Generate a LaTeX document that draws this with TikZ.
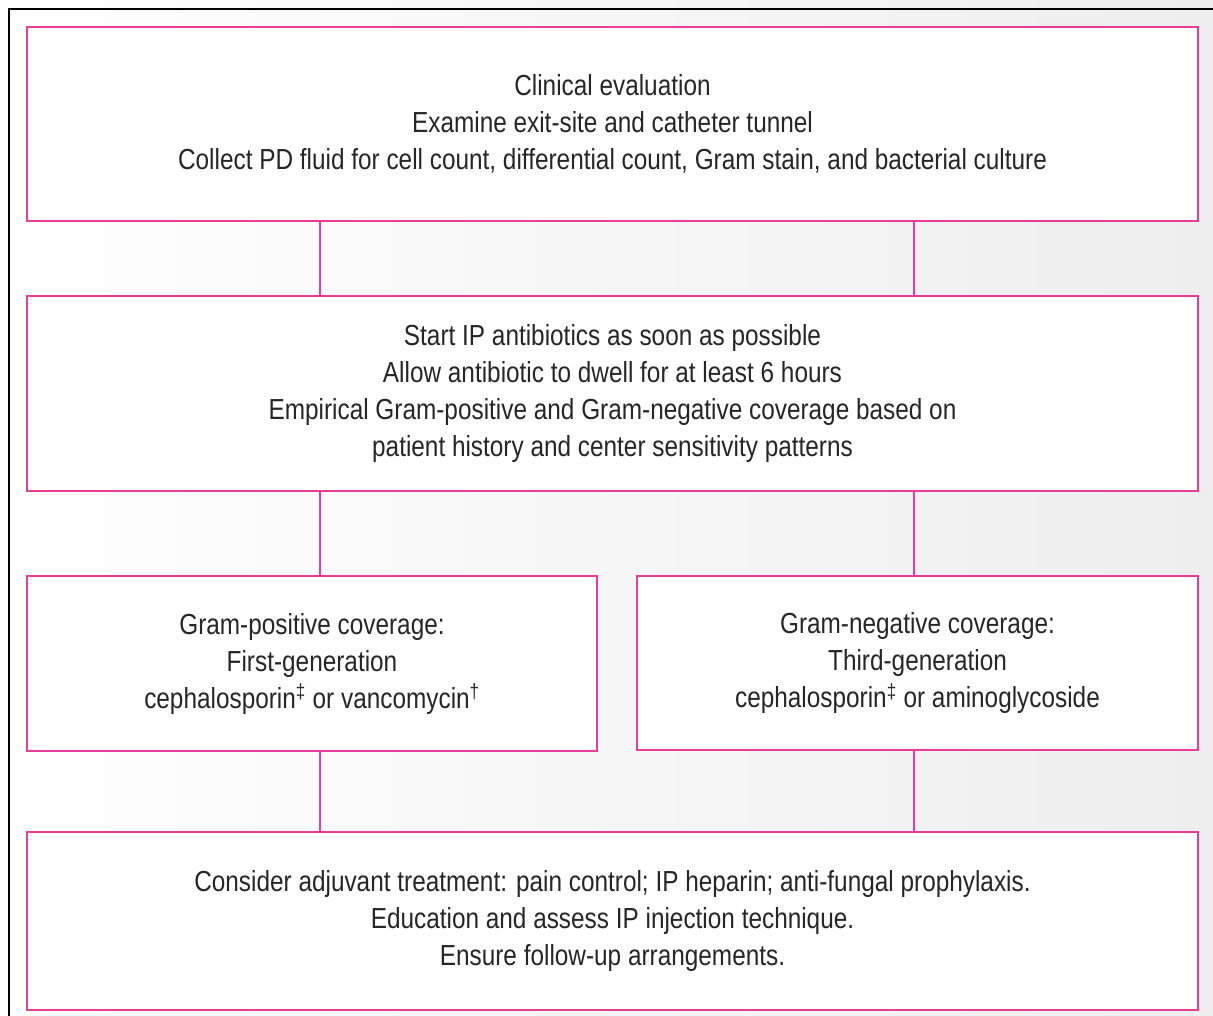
\documentclass[tikz,border=0pt]{standalone}
\usepackage{fontspec}
\setmainfont[FakeStretch=0.84]{Liberation Sans}
\definecolor{pinkline}{RGB}{232,62,152}
\definecolor{bggray}{RGB}{238,238,238}
\begin{document}
\begin{tikzpicture}[x=1pt,y=-1pt,
  box/.style={draw=pinkline, line width=2.6pt, fill=white, rectangle, inner sep=0pt,
    align=center, font=\fontsize{29}{37}\selectfont, text=black!85},
  conn/.style={draw=pinkline, line width=2.4pt}]
\useasboundingbox (0,0) rectangle (1213,1016);
\shade[left color=white, right color=bggray, shading angle=90] (0,0) rectangle (1213,1016);
\draw[line width=2.2pt, black] (9,1016) -- (9,9) -- (1213,9);
\coordinate (L) at (320,0);
\coordinate (R) at (914,0);
\node[box, minimum width=1171, minimum height=194] (b1) at (612.5,124)
  {Clinical evaluation\\Examine exit-site and catheter tunnel\\Collect PD fluid for cell count, differential count, Gram stain, and bacterial culture};
\node[box, minimum width=1171, minimum height=195] (b2) at (612.5,393.5)
  {Start IP antibiotics as soon as possible\\Allow antibiotic to dwell for at least 6 hours\\Empirical Gram-positive and Gram-negative coverage based on\\patient history and center sensitivity patterns};
\node[box, minimum width=570, minimum height=175] (b3) at (312,663.5)
  {Gram-positive coverage:\\First-generation\\cephalosporin\textsuperscript{‡} or vancomycin\textsuperscript{†}};
\node[box, minimum width=561, minimum height=174] (b4) at (917.5,663)
  {Gram-negative coverage:\\Third-generation\\cephalosporin\textsuperscript{‡} or aminoglycoside};
\node[box, minimum width=1171, minimum height=178] (b5) at (612.5,921)
  {Consider adjuvant treatment: pain control; IP heparin; anti-fungal prophylaxis.\\Education and assess IP injection technique.\\Ensure follow-up arrangements.};
\draw[conn] (b1.south -| L) -- (b2.north -| L);
\draw[conn] (b1.south -| R) -- (b2.north -| R);
\draw[conn] (b2.south -| L) -- (b3.north -| L);
\draw[conn] (b2.south -| R) -- (b4.north -| R);
\draw[conn] (b3.south -| L) -- (b5.north -| L);
\draw[conn] (b4.south -| R) -- (b5.north -| R);
\end{tikzpicture}
\end{document}
